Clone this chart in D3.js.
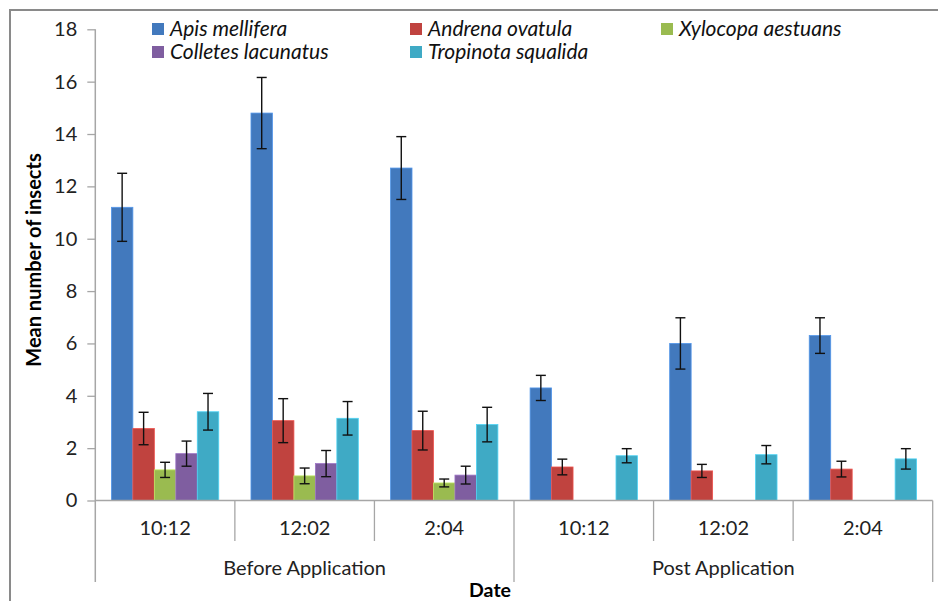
<!DOCTYPE html>
<html><head><meta charset="utf-8">
<script src="https://cdn.jsdelivr.net/npm/d3@7/dist/d3.min.js"></script>
<style>html,body{margin:0;padding:0;background:#fff;}svg{display:block;font-family:Lato,"Open Sans",sans-serif;}</style>
</head><body>
<svg id="chart" width="938" height="601"></svg>
<script>
const categories = ["10:12","12:02","2:04","10:12","12:02","2:04"];
const groups = ["Before Application","Post Application"];
const seriesNames = ["Apis mellifera","Andrena ovatula","Xylocopa aestuans","Colletes lacunatus","Tropinota squalida"];
const apis = [11.2,14.8,12.7,4.3,6.0,6.3];
const apisErr = [1.3,1.36,1.2,0.48,0.98,0.68];
const andrena = [2.75,3.05,2.67,1.28,1.13,1.2];
const andrenaErr = [0.62,0.84,0.74,0.3,0.25,0.3];
const xylocopa = [1.17,0.94,0.67,0,0,0];
const xylocopaErr = [0.29,0.3,0.15,0,0,0];
const colletes = [1.79,1.41,0.97,0,0,0];
const colletesErr = [0.48,0.5,0.34,0,0,0];
const tropinota = [3.39,3.14,2.9,1.71,1.75,1.59];
const tropinotaErr = [0.7,0.64,0.66,0.27,0.35,0.39];
const yTicks = [0,2,4,6,8,10,12,14,16,18];

const colors = ["#4279BD","#C0433F","#9ABB50","#7F5EA0","#3FAAC5"];
const values = [apis,andrena,xylocopa,colletes,tropinota];
const errs = [apisErr,andrenaErr,xylocopaErr,colletesErr,tropinotaErr];

const svg = d3.select("#chart");
const L = 95.3, R = 932.7, T = 29.3, B = 500.5;

// outer frame
svg.append("rect").attr("x",10).attr("y",10).attr("width",1000).attr("height",700)
  .attr("fill","none").attr("stroke","#8a8a8a").attr("stroke-width",2);

const idx = d3.range(categories.length);
const x0 = d3.scaleBand().domain(idx).range([L,R]).paddingInner(0).paddingOuter(0);
const x1 = d3.scaleBand().domain(d3.range(seriesNames.length)).range([0,x0.bandwidth()]).paddingInner(0).paddingOuter(0.75);
const y = d3.scaleLinear().domain([0,18]).range([B,T]);

// y axis
const yAxis = d3.axisLeft(y).tickValues(yTicks).tickSize(8).tickPadding(10);
const gy = svg.append("g").attr("transform",`translate(${L},0)`).call(yAxis);
gy.select(".domain").remove();
gy.selectAll(".tick line").attr("stroke","#a6a6a6").attr("stroke-width",1.3);
gy.selectAll(".tick text").attr("font-size",20).attr("fill","#222").attr("font-family","Lato,sans-serif");
svg.append("line").attr("x1",L).attr("x2",L).attr("y1",T).attr("y2",582)
  .attr("stroke","#a6a6a6").attr("stroke-width",1.5);

// bars
const gBars = svg.append("g");
seriesNames.forEach((s,si)=>{
  gBars.selectAll(null).data(idx).enter().append("rect")
    .attr("x",i=>x0(i)+x1(si))
    .attr("width",x1.bandwidth())
    .attr("y",i=>y(values[si][i]))
    .attr("height",i=>y(0)-y(values[si][i]))
    .attr("fill",colors[si])
    .attr("stroke",d3.color(colors[si]).brighter(0.6))
    .attr("stroke-width",0.8);
});

// error bars
const gErr = svg.append("g").attr("stroke","#111").attr("stroke-width",1.4);
seriesNames.forEach((s,si)=>{
  idx.filter(i=>values[si][i]>0).forEach(i=>{
    const cx = x0(i)+x1(si)+x1.bandwidth()/2;
    const v = values[si][i], e = errs[si][i];
    gErr.append("line").attr("x1",cx).attr("x2",cx).attr("y1",y(v+e)).attr("y2",y(v-e));
    gErr.append("line").attr("x1",cx-5).attr("x2",cx+5).attr("y1",y(v+e)).attr("y2",y(v+e));
    gErr.append("line").attr("x1",cx-5).attr("x2",cx+5).attr("y1",y(v-e)).attr("y2",y(v-e));
  });
});

// x axis
svg.append("line").attr("x1",L).attr("x2",R).attr("y1",B).attr("y2",B)
  .attr("stroke","#a6a6a6").attr("stroke-width",1.5);
idx.forEach(i=>{
  if(i>0){
    const xx = x0(i);
    const outer = (i % 3 === 0);
    svg.append("line").attr("x1",xx).attr("x2",xx).attr("y1",B).attr("y2",outer?582:541)
      .attr("stroke","#a6a6a6").attr("stroke-width",1.3);
  }
  svg.append("text").attr("x",x0(i)+x0.bandwidth()/2).attr("y",535)
    .attr("text-anchor","middle").attr("font-size",20).attr("fill","#222").text(categories[i]);
});
svg.append("line").attr("x1",R).attr("x2",R).attr("y1",B).attr("y2",582)
  .attr("stroke","#a6a6a6").attr("stroke-width",1.3);
groups.forEach((g,gi)=>{
  const xs = x0(gi*3), xe = x0(gi*3+2)+x0.bandwidth();
  svg.append("text").attr("x",(xs+xe)/2).attr("y",575)
    .attr("text-anchor","middle").attr("font-size",20).attr("fill","#222").text(g);
});

// axis titles
svg.append("text").attr("x",490).attr("y",597).attr("text-anchor","middle")
  .attr("font-size",19.5).attr("font-weight","bold").attr("fill","#000").text("Date");
svg.append("text").attr("transform","translate(41,260) rotate(-90)").attr("text-anchor","middle")
  .attr("font-size",20).attr("font-weight","bold").attr("fill","#000").text("Mean number of insects");

// legend
const legPos = [[152,29],[410,29],[661,29],[152,52],[410,52]];
seriesNames.forEach((s,si)=>{
  const [lx,ly] = legPos[si];
  svg.append("rect").attr("x",lx).attr("y",ly-6).attr("width",12).attr("height",12).attr("fill",colors[si]);
  svg.append("text").attr("x",lx+18).attr("y",ly+7).attr("font-size",21).attr("font-style","italic")
    .attr("fill","#111").text(s);
});
</script>
</body></html>
